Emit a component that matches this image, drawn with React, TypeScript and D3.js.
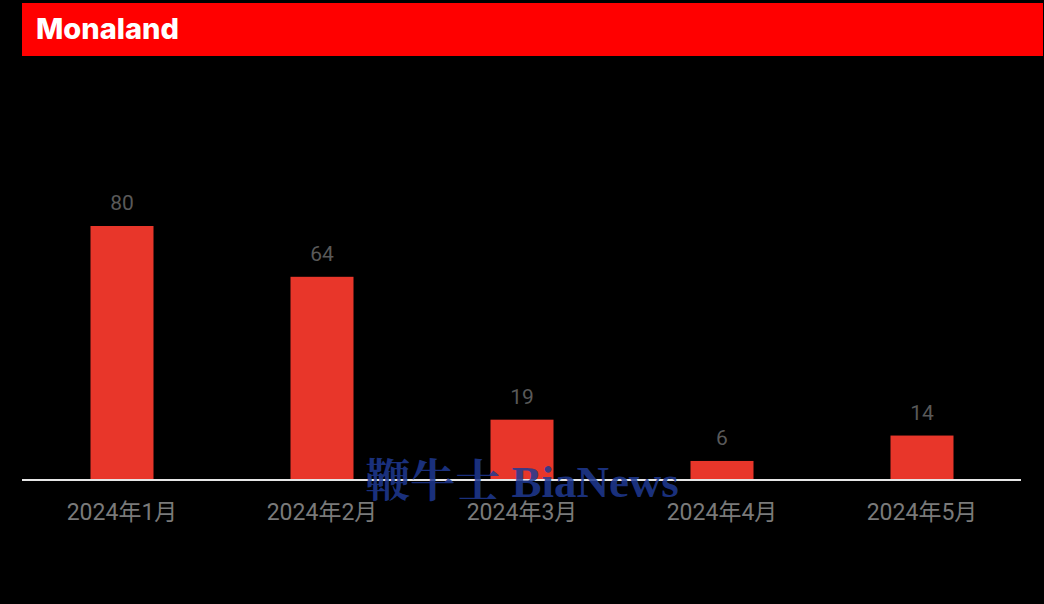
import React from "react";
import * as d3 from "d3";

const categories = ["2024年1月", "2024年2月", "2024年3月", "2024年4月", "2024年5月"];
const values = [80, 64, 19, 6, 14];
const title = "Monaland";
const watermark = "鞭牛士 BiaNews";

const W = 1044;
const H = 604;

export default function App() {
  const x = d3.scaleBand<string>().domain(categories).range([22, 1022]).paddingInner(0.685).paddingOuter(0.3425);
  const y = d3.scaleLinear().domain([0, 100]).range([480, 162.5]);
  const bw = x.bandwidth();
  return (
    <svg
      width={W}
      height={H}
      style={{ position: "absolute", left: 0, top: 0, background: "#000", display: "block" }}
      fontFamily="Roboto, 'Noto Sans CJK SC', sans-serif"
    >
      <rect x={0} y={0} width={W} height={H} fill="#000" />
      <rect x={22} y={3} width={1021} height={53} fill="#FF0000" />
      <text x={36} y={39} fill="#fff" fontSize={29} fontWeight={800} fontFamily="Inter, 'Noto Sans', sans-serif">
        {title}
      </text>
      {categories.map((c, i) => (
        <g key={c}>
          <rect x={x(c)} y={y(values[i])} width={bw} height={y(0) - y(values[i])} fill="#E8362A" />
          <text
            x={(x(c) as number) + bw / 2}
            y={y(values[i]) - 16}
            textAnchor="middle"
            fill="#595959"
            fontSize={21}
          >
            {values[i]}
          </text>
          <text
            x={(x(c) as number) + bw / 2}
            y={520}
            textAnchor="middle"
            fill="#7a7a7a"
            fontSize={23}
          >
            {c}
          </text>
        </g>
      ))}
      <line x1={22} x2={1021} y1={480} y2={480} stroke="#e6e6e6" strokeWidth={2} />
      <text
        x={522}
        y={497}
        textAnchor="middle"
        fill="#1f3a93"
        fillOpacity={0.85}
        fontSize={45}
        fontWeight={700}
        fontFamily="'Liberation Serif', 'Noto Serif CJK SC', serif"
      >
        {watermark}
      </text>
    </svg>
  );
}
